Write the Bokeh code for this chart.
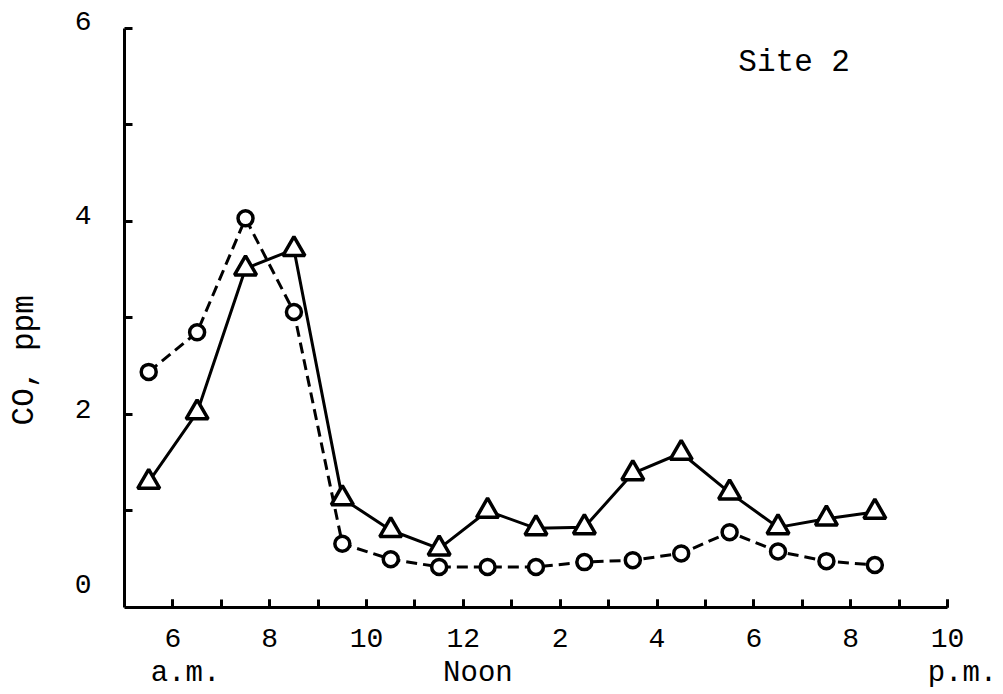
import math
from bokeh.plotting import figure
from bokeh.layouts import row
from bokeh.models import Range1d, FixedTicker, Label, LinearAxis
from bokeh.embed import file_html
from bokeh.resources import INLINE

# ---- data ----
hours = [5.5, 6.5, 7.5, 8.5, 9.5, 10.5, 11.5, 12.5, 13.5, 14.5, 15.5, 16.5, 17.5, 18.5, 19.5, 20.5]
co_triangle = [1.30, 2.02, 3.51, 3.71, 1.13, 0.80, 0.61, 1.00, 0.82, 0.83, 1.39, 1.60, 1.19, 0.83, 0.92, 0.99]
co_circle = [2.44, 2.85, 4.03, 3.06, 0.66, 0.50, 0.42, 0.42, 0.42, 0.47, 0.49, 0.56, 0.78, 0.58, 0.48, 0.44]

x_tick_marks = list(range(6, 23))
x_label_pos = [6, 8, 10, 12, 14, 16, 18, 20, 22]
x_label_text = ["6", "8", "10", "12", "2", "4", "6", "8", "10"]
period_pos = [6.26, 12.30, 22.31]
period_text = ["a.m.", "Noon", "p.m."]
y_tick_marks = [1, 2, 3, 4, 5, 6]
y_label_pos = [0.24, 2.06, 4.07, 6.07]
y_label_text = ["0", "2", "4", "6"]

FONT = "Liberation Mono"
TOP, BOTTOM = 18, 83

# ---- main figure ----
p = figure(width=954, height=692, output_backend="svg", toolbar_location=None,
           x_range=Range1d(5, 22.6), y_range=Range1d(0, 6.1),
           min_border_left=78, min_border_right=24, min_border_top=TOP, min_border_bottom=BOTTOM)
p.outline_line_color = None
p.xgrid.visible = False
p.ygrid.visible = False

xa = p.xaxis[0]
ya = p.yaxis[0]
for ax in (xa, ya):
    ax.axis_line_width = 3
    ax.axis_line_color = "black"
    ax.major_label_text_font = FONT
    ax.major_label_text_font_size = "28px"
    ax.major_label_text_color = "black"

xa.bounds = (5, 22)
xa.ticker = FixedTicker(ticks=x_label_pos, minor_ticks=x_tick_marks)
xa.major_label_overrides = dict(zip(x_label_pos, x_label_text))
xa.major_tick_line_width = 3
xa.major_tick_in = 8
xa.major_tick_out = 0
xa.minor_tick_line_width = 3
xa.minor_tick_in = 8
xa.minor_tick_out = 0
xa.major_label_standoff = 21

ya.bounds = (0, 6)
ya.ticker = FixedTicker(ticks=y_label_pos, minor_ticks=y_tick_marks)
ya.major_label_overrides = dict(zip(y_label_pos, y_label_text))
ya.major_tick_line_color = None
ya.major_tick_in = 0
ya.major_tick_out = 0
ya.minor_tick_line_width = 3
ya.minor_tick_in = 8
ya.minor_tick_out = 0
ya.major_label_standoff = 33

# a.m. / Noon / p.m. row
pa = LinearAxis(ticker=FixedTicker(ticks=period_pos),
                major_label_overrides=dict(zip(period_pos, period_text)),
                axis_line_color=None, major_tick_line_color=None, minor_tick_line_color=None,
                major_tick_in=0, major_tick_out=0, major_label_standoff=7,
                major_label_text_font=FONT, major_label_text_font_size="29px",
                major_label_text_color="black")
p.add_layout(pa, "below")

# series: dashed circles
p.line(hours, co_circle, line_color="black", line_width=3, line_dash="11 6")
p.scatter(hours, co_circle, marker="circle", size=15, fill_color="white",
          line_color="black", line_width=3.5)
# series: solid triangles
p.line(hours, co_triangle, line_color="black", line_width=3)
p.scatter(hours, co_triangle, marker="triangle", size=22, fill_color="white",
          line_color="black", line_width=3.5)

# site label
p.add_layout(Label(x=17.68, y=5.64, text="Site 2", text_align="left", text_baseline="middle",
                   text_font=FONT, text_font_size="31px", text_color="black"))

# ---- narrow strip for the y-axis title (same vertical frame as the chart) ----
t = figure(width=46, height=692, output_backend="svg", toolbar_location=None,
           x_range=Range1d(0, 46), y_range=Range1d(0, 6.1),
           x_axis_type=None, y_axis_type=None,
           min_border_left=0, min_border_right=0, min_border_top=TOP, min_border_bottom=BOTTOM)
t.outline_line_color = None
t.xgrid.visible = False
t.ygrid.visible = False
t.add_layout(Label(x=24, y=2.56, text="CO, ppm", angle=math.pi / 2, text_align="center",
                   text_baseline="middle", text_font=FONT, text_font_size="31px",
                   text_color="black"))

layout = row(t, p, spacing=0)
open("out.html", "w").write(file_html(layout, INLINE))
